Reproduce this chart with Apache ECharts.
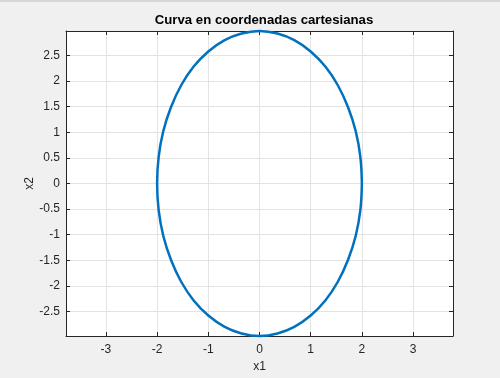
<!DOCTYPE html>
<html>
<head>
<meta charset="utf-8">
<script src="https://cdn.jsdelivr.net/npm/echarts@6/dist/echarts.min.js"></script>
<style>html,body{margin:0;padding:0;background:#f0f0f0;}#c{width:500px;height:378px;}</style>
</head>
<body>
<div id="c"></div>
<script>
// Points (x1, x2)
const x1Values = [2.00, 1.97, 1.88, 1.73, 1.53, 1.29, 1.00, 0.68, 0.35, 0.00,
  -0.35, -0.68, -1.00, -1.29, -1.53, -1.73, -1.88, -1.97, -2.00,
  -1.97, -1.88, -1.73, -1.53, -1.29, -1.00, -0.68, -0.35, 0.00,
  0.35, 0.68, 1.00, 1.29, 1.53, 1.73, 1.88, 1.97, 2.00];
const x2Values = [0.00, 0.52, 1.02, 1.49, 1.92, 2.28, 2.58, 2.80, 2.93, 2.98,
  2.93, 2.80, 2.58, 2.28, 1.92, 1.49, 1.02, 0.52, 0.00,
  -0.52, -1.02, -1.49, -1.92, -2.28, -2.58, -2.80, -2.93, -2.98,
  -2.93, -2.80, -2.58, -2.28, -1.92, -1.49, -1.02, -0.52, 0.00];
const xTicks = [-3, -2, -1, 0, 1, 2, 3];
const yTicks = [-2.5, -2, -1.5, -1, -0.5, 0, 0.5, 1, 1.5, 2, 2.5];
const xRange = [-3.78, 3.78];
const yRange = [-2.98, 2.98];

const data = x1Values.map((v, i) => [v, x2Values[i]]);
const axisColor = '#262626';
const font = 'Liberation Sans, Arial, sans-serif';

function mkAxis(pos, range, ticks, showLabel, name) {
  return {
    type: 'value', position: pos, min: range[0], max: range[1],
    name: name || '', nameLocation: 'middle', nameMoveOverlap: false,
    nameGap: pos === 'left' ? 30 : 25,
    nameTextStyle: {color: axisColor, fontSize: 12, fontFamily: font},
    axisLine: {show: true, onZero: false, lineStyle: {color: axisColor, width: 1}},
    axisTick: {show: true, inside: true, length: 4, customValues: ticks, lineStyle: {color: axisColor}},
    axisLabel: {show: showLabel, customValues: ticks, color: axisColor, fontSize: 12, fontFamily: font,
      margin: pos === 'bottom' ? 8 : 6,
      formatter: v => String(v)},
    splitLine: {show: showLabel, lineStyle: {color: '#e3e3e3', width: 1}}
  };
}

const chart = echarts.init(document.getElementById('c'));
chart.setOption({
  backgroundColor: '#f0f0f0',
  animation: false,
  title: {
    text: 'Curva en coordenadas cartesianas', left: 259, top: 9, textAlign: 'center',
    textStyle: {fontSize: 13.2, fontWeight: 'bold', color: '#000', fontFamily: font}
  },
  graphic: [{type: 'rect', shape: {x: 0, y: 0, width: 500, height: 2}, style: {fill: '#d6d6d6'}}],
  grid: {left: 66, right: 47, top: 31, bottom: 42, show: true, backgroundColor: '#ffffff', borderWidth: 0},
  xAxis: [mkAxis('bottom', xRange, xTicks, true, 'x1'), mkAxis('top', xRange, xTicks, false)],
  yAxis: [mkAxis('left', yRange, yTicks, true, 'x2'), mkAxis('right', yRange, yTicks, false)],
  series: [{
    type: 'line', data: data, smooth: 0.4, showSymbol: false, symbol: 'none',
    lineStyle: {color: '#0072BD', width: 2.5}, clip: false
  }]
});
</script>
</body>
</html>
